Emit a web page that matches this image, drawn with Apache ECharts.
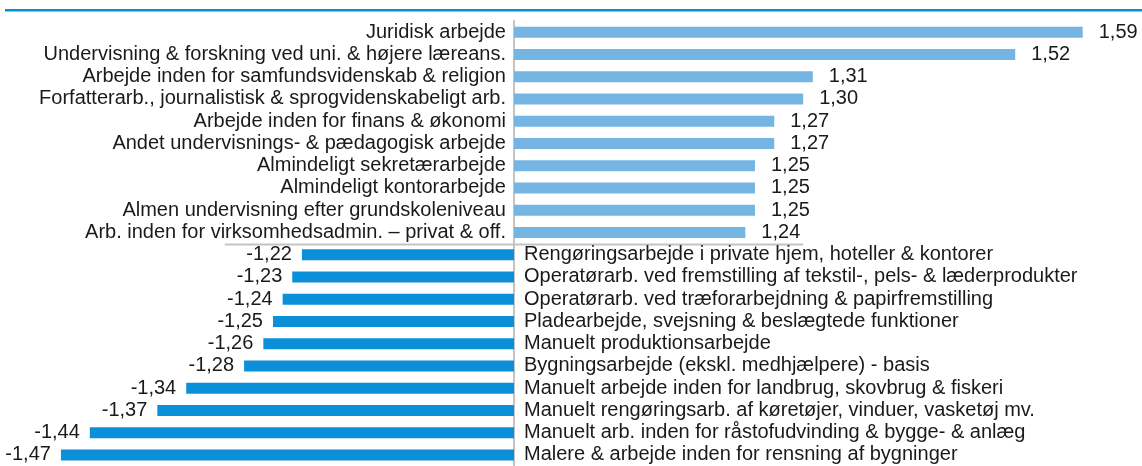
<!DOCTYPE html>
<html>
<head>
<meta charset="utf-8">
<script src="https://cdn.jsdelivr.net/npm/echarts@6/dist/echarts.min.js"></script>
<style>
  html, body { margin: 0; padding: 0; background: #fff; }
  #chart { width: 1142px; height: 466px; }
</style>
</head>
<body>
<div id="chart"></div>
<script>
// kategorier (øverst: positive, nederst: negative)
const posNames = [
  'Juridisk arbejde',
  'Undervisning & forskning ved uni. & højere læreans.',
  'Arbejde inden for samfundsvidenskab & religion',
  'Forfatterarb., journalistisk & sprogvidenskabeligt arb.',
  'Arbejde inden for finans & økonomi',
  'Andet undervisnings- & pædagogisk arbejde',
  'Almindeligt sekretærarbejde',
  'Almindeligt kontorarbejde',
  'Almen undervisning efter grundskoleniveau',
  'Arb. inden for virksomhedsadmin. – privat & off.'
]
const posValues = [1.59, 1.52, 1.31, 1.30, 1.27, 1.27, 1.25, 1.25, 1.25, 1.24]

const negNames = [
  'Rengøringsarbejde i private hjem, hoteller & kontorer',
  'Operatørarb. ved fremstilling af tekstil-, pels- & læderprodukter',
  'Operatørarb. ved træforarbejdning & papirfremstilling',
  'Pladearbejde, svejsning & beslægtede funktioner',
  'Manuelt produktionsarbejde',
  'Bygningsarbejde (ekskl. medhjælpere) - basis',
  'Manuelt arbejde inden for landbrug, skovbrug & fiskeri',
  'Manuelt rengøringsarb. af køretøjer, vinduer, vasketøj mv.',
  'Manuelt arb. inden for råstofudvinding & bygge- & anlæg',
  'Malere & arbejde inden for rensning af bygninger'
]
const negValues = [-1.22, -1.23, -1.24, -1.25, -1.26, -1.28, -1.34, -1.37, -1.44, -1.47]

// søjlerne tegnes fra 1 / -1
const baseline = 1

const categories = posNames.concat(negNames)
const allValues = posValues.concat(negValues)
const nPos = posNames.length

const fmt = v => v.toFixed(2).replace('.', ',')
const FONT = "'Liberation Sans', Arial, sans-serif"
const FS = 20
const TEXT = '#1a1a1a'

const posData = allValues.map((v, i) => (i < nPos ? +(v - baseline).toFixed(4) : '-'))
const negData = allValues.map((v, i) => (i >= nPos ? +(v + baseline).toFixed(4) : '-'))
const nameData = categories.map((c, i) => ({
  value: 0,
  label: { position: i < nPos ? 'left' : 'right', distance: i < nPos ? 8 : 10 }
}))

const myChart = echarts.init(document.getElementById('chart'))

const option = {
  animation: false,
  grid: { left: 0, right: 0, top: 21, bottom: 0 },
  xAxis: {
    type: 'value',
    min: -0.5332,
    max: 0.6515,
    show: false
  },
  yAxis: {
    type: 'category',
    inverse: true,
    data: categories,
    axisLine: { show: true, onZero: true, lineStyle: { color: '#c3c3c3', width: 2 } },
    axisTick: { show: false },
    axisLabel: { show: false },
    splitLine: { show: false }
  },
  series: [
    {
      type: 'bar',
      data: posData,
      barWidth: 11,
      barGap: '-100%',
      itemStyle: { color: '#74b5e4' },
      label: {
        show: true,
        position: 'right',
        distance: 16,
        fontFamily: FONT,
        fontSize: FS,
        color: TEXT,
        formatter: p => fmt(allValues[p.dataIndex])
      }
    },
    {
      type: 'bar',
      data: negData,
      barWidth: 11,
      barGap: '-100%',
      itemStyle: { color: '#0b8fd8' },
      label: {
        show: true,
        position: 'left',
        distance: 10,
        fontFamily: FONT,
        fontSize: FS,
        color: TEXT,
        formatter: p => fmt(allValues[p.dataIndex])
      }
    },
    {
      // kun kategorinavne
      type: 'bar',
      data: nameData,
      barWidth: 11,
      barGap: '-100%',
      itemStyle: { color: 'rgba(0,0,0,0)' },
      silent: true,
      label: {
        show: true,
        fontFamily: FONT,
        fontSize: FS,
        color: TEXT,
        formatter: p => categories[p.dataIndex]
      }
    }
  ]
}
myChart.setOption(option)

// blå linje øverst + grå skillelinje mellem positive og negative
const yA = myChart.convertToPixel({ yAxisIndex: 0 }, nPos - 1)
const yB = myChart.convertToPixel({ yAxisIndex: 0 }, nPos)
const ySep = Math.round((yA + yB) / 2) + 0.5
const x1 = myChart.convertToPixel({ xAxisIndex: 0 }, -0.30)
const x2 = myChart.convertToPixel({ xAxisIndex: 0 }, 0.30)

myChart.setOption({
  graphic: [
    {
      type: 'rect',
      shape: { x: 5, y: 9, width: 1137, height: 2.5 },
      style: { fill: '#0093d6' },
      silent: true
    },
    {
      type: 'line',
      shape: { x1: x1, y1: ySep, x2: x2, y2: ySep },
      style: { stroke: '#c3c3c3', lineWidth: 2 },
      silent: true
    }
  ]
})

window.addEventListener('resize', function () {
  myChart.resize()
})
</script>
</body>
</html>
